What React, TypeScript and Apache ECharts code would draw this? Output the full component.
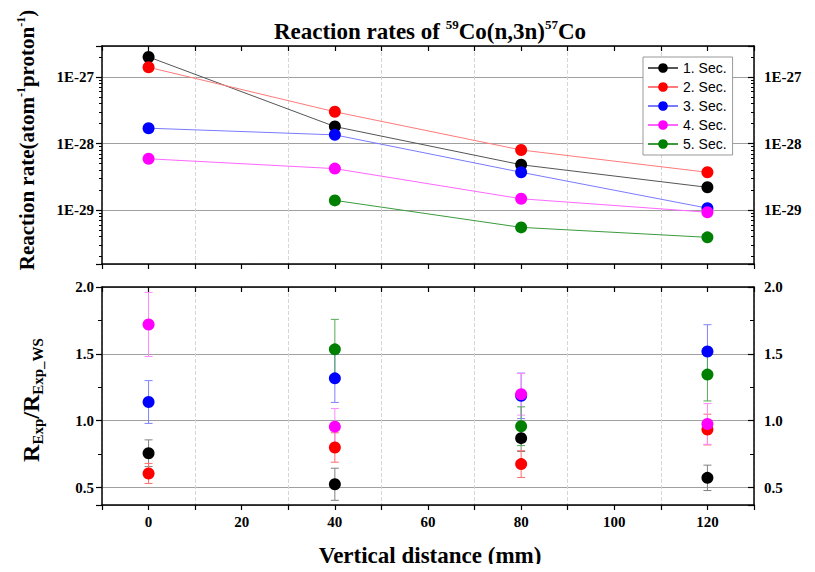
import React, { useEffect, useRef } from 'react';
import * as echarts from 'echarts';

// ---------- data ----------
const distances = [0, 40, 80, 120];
const seriesNames = ['1. Sec.', '2. Sec.', '3. Sec.', '4. Sec.', '5. Sec.'];

// reaction rates (atom^-1 proton^-1)
const rate1 = [2.0e-27, 1.8e-28, 4.8e-29, 2.2e-29];
const rate2 = [1.4e-27, 3.0e-28, 8.0e-29, 3.7e-29];
const rate3 = [1.7e-28, 1.35e-28, 3.7e-29, 1.07e-29];
const rate4 = [5.9e-29, 4.2e-29, 1.48e-29, 9.3e-30];
const rate5 = [null, 1.4e-29, 5.5e-30, 3.9e-30];

// R_Exp / R_Exp_WS and error half-widths
const ratio1 = [0.757, 0.525, 0.87, 0.573];
const err1 = [0.1, 0.12, 0.1, 0.095];
const ratio2 = [0.606, 0.8, 0.676, 0.934];
const err2 = [0.075, 0.11, 0.1, 0.115];
const ratio3 = [1.14, 1.317, 1.186, 1.518];
const err3 = [0.16, 0.18, 0.17, 0.2];
const ratio4 = [1.72, 0.956, 1.198, 0.976];
const err4 = [0.24, 0.136, 0.156, 0.152];
const ratio5 = [null, 1.534, 0.959, 1.345];
const err5 = [null, 0.224, 0.145, 0.197];

const rates = [rate1, rate2, rate3, rate4, rate5];
const ratios = [ratio1, ratio2, ratio3, ratio4, ratio5];
const errs = [err1, err2, err3, err4, err5];

const xLabelValues = [0, 20, 40, 60, 80, 100, 120];

const markerColors = ['#000000', '#ff0000', '#0000ff', '#ff00ff', '#008000'];
const lineColors = ['#555555', '#ff7a7a', '#7a7aff', '#ff66ff', '#3c9a3c'];
const errColors = ['#808080', '#ff6a6a', '#8080ff', '#ff88ff', '#55aa55'];

const SCALE = 1e30; // plotted in units of 1E-30 to keep the log axis numerically safe

const serif = 'Liberation Serif';
const sans = 'Liberation Sans';

function logLabel(v: number) {
  const l = Math.log10(v);
  const k = Math.round(l);
  if (Math.abs(l - k) > 1e-6) return '';
  return '1E-' + (30 - k);
}
function ratioLabel(v: number) {
  if (Math.abs(v * 2 - Math.round(v * 2)) > 1e-6) return '';
  return v.toFixed(1);
}
function xLabel(v: number) {
  return xLabelValues.indexOf(Math.round(v)) >= 0 && Math.abs(v - Math.round(v)) < 1e-6 ? String(Math.round(v)) : '';
}

const axisLineStyle = { color: '#000', width: 1.5 };
const tickLabelStyle = { fontFamily: serif, fontWeight: 'bold' as const, fontSize: 15, color: '#000' };

export default function App() {
  const ref = useRef<HTMLDivElement>(null);
  useEffect(() => {
    if (!ref.current) return;
    const chart = echarts.init(ref.current, undefined, { renderer: 'svg' });

    const baseX = (gridIndex: number, top: boolean, labels: boolean, split: boolean) => ({
      type: 'value',
      gridIndex,
      position: top ? 'top' : 'bottom',
      min: -10,
      max: 130,
      interval: 10,
      axisLine: { show: true, onZero: false, lineStyle: axisLineStyle },
      axisTick: { show: true, inside: top, length: 5, lineStyle: { color: '#000', width: 1.2 } },
      axisLabel: { show: labels, formatter: xLabel, margin: 9, ...tickLabelStyle },
      splitLine: {
        show: split,
        lineStyle: { type: 'dashed', color: ['#d6d6d6', 'rgba(0,0,0,0)'], width: 1 },
      },
    });

    const logY = (right: boolean) => ({
      type: 'log',
      logBase: 10,
      gridIndex: 0,
      position: right ? 'right' : 'left',
      min: 1.55,
      max: 2920,
      axisLine: { show: true, onZero: false, lineStyle: axisLineStyle },
      axisTick: { show: true, inside: right, length: 6, lineStyle: { color: '#000', width: 1.2 } },
      minorTick: { show: true, splitNumber: 9, length: 3, lineStyle: { color: '#000', width: 1 } },
      axisLabel: { formatter: logLabel, margin: right ? 10 : 8, ...tickLabelStyle },
      splitLine: { show: !right, lineStyle: { color: '#a0a0a0', width: 1 } },
    });

    const ratioY = (right: boolean) => ({
      type: 'value',
      gridIndex: 1,
      position: right ? 'right' : 'left',
      min: 0.37,
      max: 2.0,
      splitNumber: 3,
      minInterval: 0.5,
      maxInterval: 0.5,
      axisLine: { show: true, onZero: false, lineStyle: axisLineStyle },
      axisTick: { show: true, inside: right, length: 6, lineStyle: { color: '#000', width: 1.2 } },
      minorTick: { show: true, splitNumber: 2, length: 4, lineStyle: { color: '#000', width: 1 } },
      axisLabel: { formatter: ratioLabel, margin: right ? 10 : 8, ...tickLabelStyle },
      splitLine: { show: !right, lineStyle: { color: '#a0a0a0', width: 1 } },
    });

    const lineSeries = rates.map((r, i) => ({
      type: 'line',
      name: seriesNames[i],
      xAxisIndex: 0,
      yAxisIndex: 0,
      data: distances
        .map((d, j) => (r[j] == null ? null : [d, (r[j] as number) * SCALE]))
        .filter((p) => p !== null),
      symbol: 'circle',
      symbolSize: 12,
      itemStyle: { color: markerColors[i] },
      lineStyle: { color: lineColors[i], width: 1 },
      z: 3 + i,
    }));

    const errSeries = ratios.map((r, i) => ({
      type: 'custom',
      name: 'err' + (i + 1),
      xAxisIndex: 2,
      yAxisIndex: 2,
      data: distances
        .map((d, j) =>
          r[j] == null ? null : [d, (r[j] as number) - (errs[i][j] as number), (r[j] as number) + (errs[i][j] as number)]
        )
        .filter((p) => p !== null),
      encode: { x: 0, y: [1, 2] },
      z: 2,
      renderItem: (params: any, api: any) => {
        const x = api.value(0);
        const lo = api.value(1);
        const hi = api.value(2);
        const p1 = api.coord([x, hi]);
        const p2 = api.coord([x, lo]);
        const w = 4;
        const st = { stroke: errColors[i], lineWidth: 1 };
        return {
          type: 'group',
          children: [
            { type: 'line', shape: { x1: p1[0], y1: p1[1], x2: p2[0], y2: p2[1] }, style: st },
            { type: 'line', shape: { x1: p1[0] - w, y1: p1[1], x2: p1[0] + w, y2: p1[1] }, style: st },
            { type: 'line', shape: { x1: p2[0] - w, y1: p2[1], x2: p2[0] + w, y2: p2[1] }, style: st },
          ],
        };
      },
    }));

    const scatterSeries = ratios.map((r, i) => ({
      type: 'scatter',
      name: seriesNames[i],
      xAxisIndex: 2,
      yAxisIndex: 2,
      data: distances
        .map((d, j) => (r[j] == null ? null : [d, r[j]]))
        .filter((p) => p !== null),
      symbol: 'circle',
      symbolSize: 12,
      itemStyle: { color: markerColors[i], opacity: 1 },
      z: 5 + i,
    }));

    const option: any = {
      animation: false,
      backgroundColor: '#ffffff',
      grid: [
        { left: 102, top: 46, width: 652, height: 218 },
        { left: 102, top: 287, width: 652, height: 218 },
      ],
      xAxis: [
        baseX(0, false, false, true),
        baseX(0, true, false, false),
        baseX(1, false, true, true),
        baseX(1, true, false, false),
      ],
      yAxis: [logY(false), logY(true), ratioY(false), ratioY(true)],
      legend: {
        data: seriesNames,
        orient: 'vertical',
        left: 643,
        top: 57,
        itemWidth: 30,
        itemHeight: 12,
        itemGap: 5,
        padding: [4, 6, 4, 4],
        borderColor: '#999',
        borderWidth: 1,
        backgroundColor: '#fff',
        textStyle: { fontFamily: sans, fontSize: 14, color: '#000' },
        selectedMode: false,
      },
      graphic: [
        {
          type: 'text',
          x: 430,
          y: 31,
          style: {
            text: '{a|Reaction rates of }{s|59}{a|Co(n,3n)}{s|57}{a|Co}',
            align: 'center',
            verticalAlign: 'middle',
            fill: '#000',
            rich: {
              a: { fontFamily: serif, fontWeight: 'bold', fontSize: 23, lineHeight: 27 },
              s: { fontFamily: serif, fontWeight: 'bold', fontSize: 13, verticalAlign: 'top' },
            },
          },
        },
        {
          type: 'text',
          x: 27,
          y: 140,
          rotation: Math.PI / 2,
          style: {
            text: '{a|Reaction rate(atom}{s|-1}{a|proton}{s|-1}{a|)}',
            align: 'center',
            verticalAlign: 'middle',
            fill: '#000',
            rich: {
              a: { fontFamily: serif, fontWeight: 'bold', fontSize: 21, lineHeight: 25 },
              s: { fontFamily: serif, fontWeight: 'bold', fontSize: 12, verticalAlign: 'top' },
            },
          },
        },
        {
          type: 'text',
          x: 31,
          y: 400,
          rotation: Math.PI / 2,
          style: {
            text: '{a|R}{b|Exp}{a|/R}{b|Exp_WS}',
            align: 'center',
            verticalAlign: 'middle',
            fill: '#000',
            rich: {
              a: { fontFamily: serif, fontWeight: 'bold', fontSize: 24, lineHeight: 28 },
              b: { fontFamily: serif, fontWeight: 'bold', fontSize: 15, verticalAlign: 'bottom' },
            },
          },
        },
        {
          type: 'text',
          x: 430,
          y: 555,
          style: {
            text: 'Vertical distance (mm)',
            align: 'center',
            verticalAlign: 'middle',
            fill: '#000',
            font: 'bold 23px "Liberation Serif"',
          },
        },
      ],
      series: [...lineSeries, ...errSeries, ...scatterSeries],
    };

    chart.setOption(option);
    return () => chart.dispose();
  }, []);

  return <div ref={ref} style={{ width: 815, height: 572, margin: -8 }} />;
}
